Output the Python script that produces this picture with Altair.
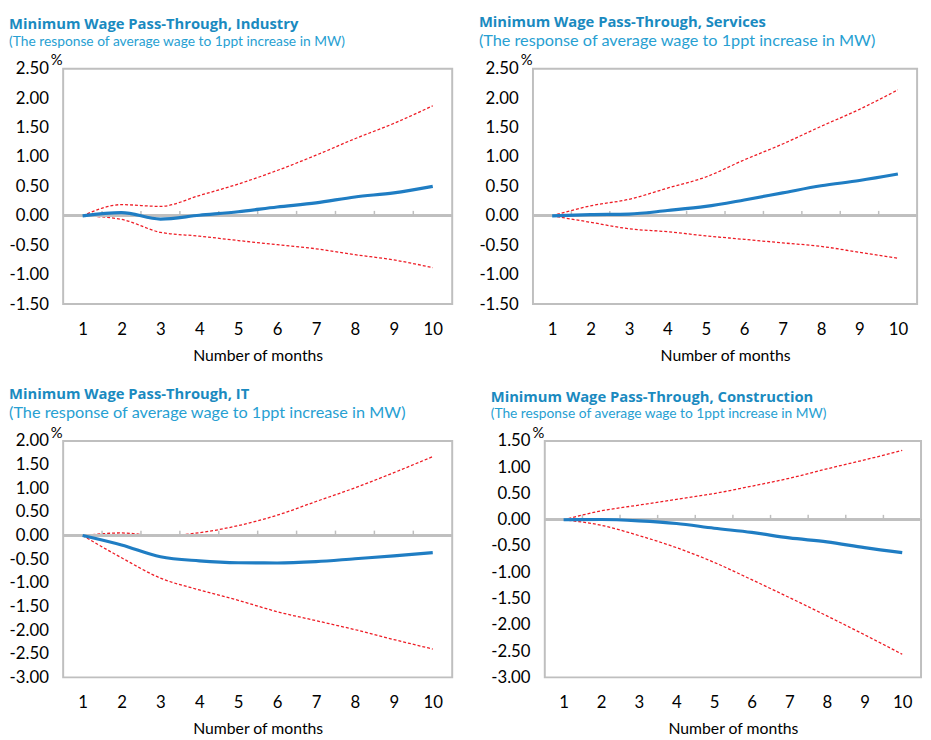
import altair as alt
import pandas as pd

months = [1, 2, 3, 4, 5, 6, 7, 8, 9, 10]

industry_mid = [0.0, 0.055, -0.055, 0.01, 0.07, 0.15, 0.22, 0.32, 0.39, 0.50]
industry_up = [0.0, 0.19, 0.16, 0.345, 0.54, 0.77, 1.03, 1.31, 1.57, 1.87]
industry_lo = [0.0, -0.06, -0.28, -0.345, -0.42, -0.49, -0.56, -0.66, -0.75, -0.88]

services_mid = [0.0, 0.02, 0.03, 0.09, 0.16, 0.27, 0.39, 0.51, 0.60, 0.71]
services_up = [0.0, 0.17, 0.28, 0.47, 0.66, 0.95, 1.22, 1.52, 1.81, 2.14]
services_lo = [0.0, -0.11, -0.22, -0.27, -0.34, -0.40, -0.46, -0.52, -0.62, -0.72]

it_mid = [0.0, -0.20, -0.45, -0.535, -0.575, -0.58, -0.55, -0.49, -0.43, -0.36]
it_up = [0.0, 0.055, -0.01, 0.06, 0.21, 0.43, 0.72, 1.01, 1.33, 1.67]
it_lo = [0.0, -0.47, -0.90, -1.15, -1.37, -1.61, -1.80, -1.99, -2.20, -2.40]

constr_mid = [0.0, 0.005, -0.02, -0.07, -0.16, -0.24, -0.345, -0.42, -0.53, -0.625]
constr_up = [0.0, 0.17, 0.28, 0.39, 0.50, 0.64, 0.79, 0.97, 1.14, 1.32]
constr_lo = [0.0, -0.105, -0.30, -0.53, -0.81, -1.14, -1.48, -1.83, -2.19, -2.56]

boundaries = [1.5, 2.5, 3.5, 4.5, 5.5, 6.5, 7.5, 8.5, 9.5]

subtitle = "(The response of average wage  to 1ppt increase in MW)"

GRAY = "#bfbfbf"
BLUE = "#1f7dc3"
RED = "#ee1c25"
FONT = "Lato"


def panel(name, mid, up, lo, ymin, ymax, width, height, sub_size):
    df = pd.DataFrame({
        "month": months * 3,
        "value": mid + up + lo,
        "series": ["mid"] * 10 + ["upper"] * 10 + ["lower"] * 10,
    })
    ticks = []
    v = ymin
    while v <= ymax + 1e-9:
        ticks.append(round(v, 2))
        v += 0.5
    xscale = alt.Scale(domain=[0.5, 10.5], nice=False, zero=False)
    yscale = alt.Scale(domain=[ymin, ymax], nice=False, zero=False)
    xaxis = alt.Axis(values=months, format="d", grid=False, ticks=False,
                     domain=False, labelPadding=18, labelFontSize=17,
                     labelFont=FONT, labelColor="#000000",
                     labelOverlap=False, labelFlush=False,
                     title="Number of months", titleFont=FONT,
                     titleFontSize=16, titleFontWeight="normal",
                     titleColor="#000000", titlePadding=10)
    yaxis = alt.Axis(values=ticks, grid=False, ticks=False, domain=False,
                     labelExpr="datum.value < 0 ? '-' + format(-datum.value, '.2f') : format(datum.value, '.2f')",
                     labelOverlap=False, labelFlush=False,
                     labelPadding=15, labelFontSize=17, labelFont=FONT,
                     labelColor="#000000", title="%", titleAngle=0,
                     titleFont=FONT, titleFontSize=15,
                     titleFontWeight="normal", titleColor="#000000",
                     titleX=-13, titleY=-1, titleAlign="left",
                     titleBaseline="bottom")
    x = alt.X("month:Q", scale=xscale, axis=xaxis)
    y = alt.Y("value:Q", scale=yscale, axis=yaxis)
    base = alt.Chart(df)
    bands = base.transform_filter(alt.datum.series != "mid").mark_line(
        color=RED, strokeWidth=1.3, strokeDash=[3, 2], interpolate="monotone"
    ).encode(x=x, y=y, detail="series:N")
    central = base.transform_filter(alt.datum.series == "mid").mark_line(
        color=BLUE, strokeWidth=3.2, interpolate="monotone"
    ).encode(x=x, y=y)
    zero = base.mark_rule(color=GRAY, strokeWidth=2).encode(
        y=alt.YDatum(0, scale=yscale, axis=yaxis))
    tdf = pd.DataFrame({"b": boundaries})
    tickmarks = alt.Chart(tdf).mark_rule(color=GRAY, strokeWidth=1.5, y2Offset=-5).encode(
        x=alt.X("b:Q", scale=xscale, axis=xaxis),
        y=alt.YDatum(0, scale=yscale, axis=yaxis), y2=alt.datum(0))
    return alt.layer(bands, zero, tickmarks, central).properties(
        width=width, height=height,
        title=alt.TitleParams(
            text="Minimum Wage Pass-Through, " + name,
            subtitle=subtitle, anchor="start", frame="bounds",
            font="Open Sans", fontSize=15, fontWeight="bold", color="#1a8ac0",
            subtitleFont=FONT, subtitleFontSize=sub_size, subtitleColor="#27a0d2",
            subtitlePadding=3, offset=4),
    )


p1 = panel("Industry", industry_mid, industry_up, industry_lo, -1.5, 2.5, 395, 239, 14)
p2 = panel("Services", services_mid, services_up, services_lo, -1.5, 2.5, 390, 239, 16.5)
p3 = panel("IT", it_mid, it_up, it_lo, -3.0, 2.0, 395, 240, 16.5)
p4 = panel("Construction", constr_mid, constr_up, constr_lo, -3.0, 1.5, 382, 240, 14)

chart = alt.vconcat(
    alt.hconcat(p1, p2, spacing=24),
    alt.hconcat(p3, p4, spacing=36),
    spacing=22,
).properties(padding=0, background="white").configure_view(
    stroke=GRAY, strokeWidth=2
).configure_axis(labelOverlap=False)

chart.save("out.html", embed_options={"renderer": "svg", "actions": False})
